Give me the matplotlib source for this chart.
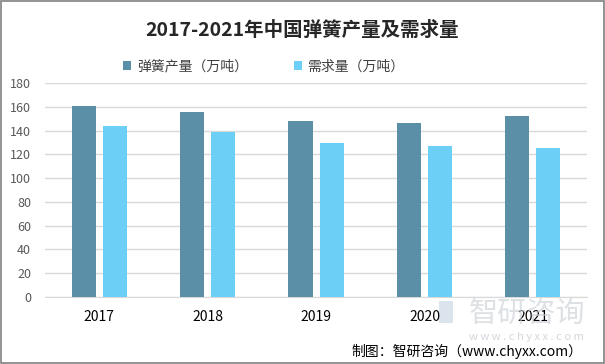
import matplotlib
matplotlib.use("Agg")
import matplotlib.pyplot as plt
from matplotlib.patches import Rectangle

plt.rcParams['font.family'] = ['Noto Sans CJK SC', 'DejaVu Sans']

years = ['2017', '2018', '2019', '2020', '2021']
production = [160.6, 155.8, 148.2, 146.5, 152.4]
demand = [144.0, 139.0, 129.7, 127.2, 125.5]
series_names = ['弹簧产量（万吨）', '需求量（万吨）']
title = '2017-2021年中国弹簧产量及需求量'
source = '制图：智研咨询（www.chyxx.com）'

c_prod = '#5B8FA8'
c_dem = '#6BCFF6'

fig = plt.figure(figsize=(6.05, 3.64), dpi=100)
ax = fig.add_axes([0.0744, 0.184, 0.896, 0.588])

x = list(range(len(years)))
w = 0.222
off = 0.1435
ax.bar([i - off for i in x], production, width=w, color=c_prod, label=series_names[0], zorder=3)
ax.bar([i + off for i in x], demand, width=w, color=c_dem, label=series_names[1], zorder=3)

ax.set_xlim(-0.5, 4.5)
ax.set_ylim(0, 180)
ax.set_yticks(range(0, 181, 20))
ax.set_xticks(x)
ax.set_xticklabels(years, fontsize=10, color='#000000')
ax.tick_params(axis='y', labelsize=9, colors='#595959', length=0, pad=10)
ax.tick_params(axis='x', length=0, pad=9)
ax.grid(axis='y', color='#D9D9D9', linewidth=1, zorder=0)
for s in ['top', 'right', 'left']:
    ax.spines[s].set_visible(False)
ax.spines['bottom'].set_color('#D9D9D9')

fig.text(0.5, 0.918, title, ha='center', va='center', fontsize=14, fontweight='bold', color='#262626')

leg = fig.legend(loc='center', bbox_to_anchor=(0.436, 0.818), ncol=2, frameon=False,
                 fontsize=10, handlelength=0.6, handleheight=0.6, handletextpad=0.4,
                 columnspacing=3.3)
for t in leg.get_texts():
    t.set_color('#404040')

# watermark (drawn behind, very light)
fig.text(0.775, 0.138, '智研咨询', ha='left', va='center', fontsize=21, color='#C8CDD3', alpha=0.6, zorder=0)
fig.add_artist(Rectangle((0.725, 0.112), 0.024, 0.06, transform=fig.transFigure,
                         facecolor='#B8C8DA', edgecolor='none', alpha=0.5, zorder=0))
fig.text(0.87, 0.073, 'w w w . c h y x x . c o m', ha='center', va='center', fontsize=8, color='#C8CDD3', alpha=0.8, zorder=0)

fig.text(0.963, 0.035, source, ha='right', va='center', fontsize=10, color='#000000')

fig.add_artist(Rectangle((0.001, 0.002), 0.997, 0.995, transform=fig.transFigure,
                         fill=False, edgecolor='#808080', linewidth=1.2))

fig.savefig('out.png', dpi=100)
